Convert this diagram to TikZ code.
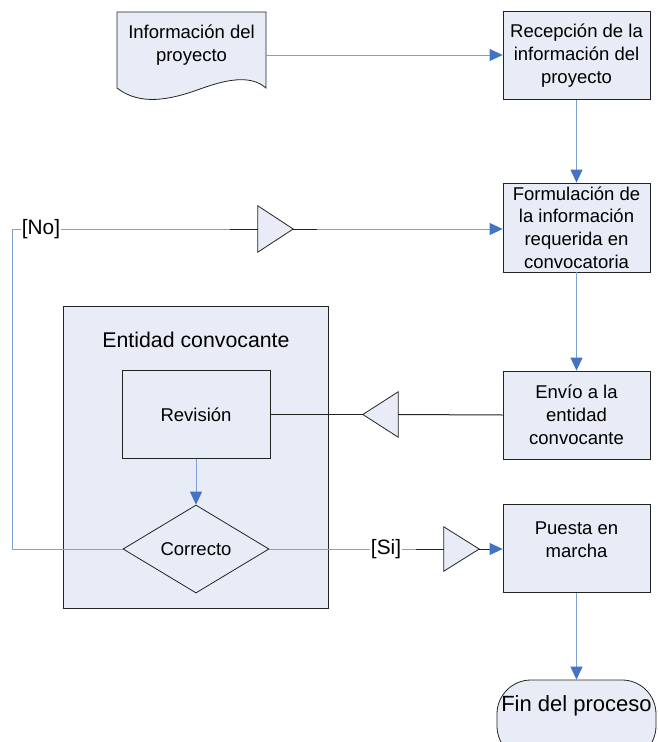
\documentclass[tikz,border=0pt]{standalone}
\usepackage{fontspec}
\setmainfont{Liberation Sans}
\usetikzlibrary{arrows.meta,shapes.geometric}
\definecolor{boxfill}{RGB}{231,236,247}
\definecolor{lineblue}{RGB}{125,160,214}
\definecolor{tipblue}{RGB}{68,114,196}
\definecolor{edgec}{RGB}{35,35,35}
\newcommand\boxfont{\fontsize{18.5}{22.8}\selectfont}
\newcommand\lanefont{\fontsize{21.3}{25}\selectfont}
\newcommand\finfont{\fontsize{22}{26}\selectfont}
\newcommand\lblfont{\fontsize{20.8}{24}\selectfont}
\begin{document}
\begin{tikzpicture}[x=1pt,y=-1pt,
  box/.style={draw=edgec, line width=0.8pt, fill=boxfill, minimum width=147pt, minimum height=88pt, inner sep=2pt, align=center, font=\boxfont},
  shapeline/.style={draw=edgec, line width=0.8pt, fill=boxfill},
  flow/.style={draw=lineblue, line width=1pt, -{Triangle[length=13pt,width=12pt,color=tipblue,fill=tipblue]}},
  bline/.style={draw=lineblue, line width=1pt},
  kline/.style={draw=edgec, line width=1pt},
  trinode/.style={minimum width=35pt, minimum height=45pt, inner sep=0pt},
  lbl/.style={font=\lblfont, inner sep=1pt}
]
\path[use as bounding box] (0,0) rectangle (657,742);
\clip (0,0) rectangle (657,742);

% document shape
\path[shapeline] (117,12) -- (266,12) -- (266,88)
  .. controls (250,74) and (225,80) .. (200,89)
  .. controls (170,100) and (140,106) .. (117,88) -- cycle;
\node[font=\boxfont, align=center] (doc) at (191.5,45) {Información del\\proyecto};
\coordinate (docR) at (266,55);

% swimlane
\node[shapeline, minimum width=265pt, minimum height=302pt, inner sep=0pt] (lane) at (195.5,457) {};
\node[font=\lanefont] (lanetitle) at (196,340) {Entidad convocante};

% right column
\node[box] (recep) at (576.5,55.5) {Recepción de la\\información del\\proyecto};
\node[box, minimum height=89pt] (form) at (576.5,227.5) {Formulación de\\la información\\requerida en\\convocatoria};
\node[box] (envio) at (576.5,415) {Envío a la\\entidad\\convocante};
\node[box, text depth=17pt] (puesta) at (576.5,548.5) {Puesta en\\marcha};
\node[shapeline, rectangle, rounded corners=34pt, minimum width=159pt, minimum height=80pt, inner sep=0pt, font=\finfont, text depth=32pt] (fin) at (576.5,720) {Fin del proceso};

% lane contents
\node[box, minimum width=148pt] (rev) at (196,414.5) {Revisión};
\node[shapeline, diamond, aspect=1.66, minimum width=146pt, minimum height=88pt, inner sep=0pt, font=\boxfont] (corr) at (196,549) {Correcto};

% merge triangles
\node[trinode, minimum height=46pt] (t1) at (275.5,229) {};
\path[shapeline] (t1.north west) -- (t1.east) -- (t1.south west) -- cycle;
\node[trinode] (t2) at (380.5,414.5) {};
\path[shapeline] (t2.north east) -- (t2.west) -- (t2.south east) -- cycle;
\node[trinode, minimum height=44pt] (t3) at (461.5,549) {};
\path[shapeline] (t3.north west) -- (t3.east) -- (t3.south west) -- cycle;

% labels
\node[lbl] (no) at (41,229) {[No]};
\node[lbl] (si) at (386,549) {[Si]};
\coordinate (nocorner) at (12,549);
\coordinate (notop) at (12,229);
\coordinate (k1) at (230,229);
\coordinate (k2) at (317,229);
\coordinate (k3) at (416,549);

% connectors
\draw[flow] (docR) -- (recep.west |- docR);
\draw[flow] (recep.south) -- (form.north);
\draw[flow] (form.south) -- (envio.north);
\draw[flow] (puesta.south) -- (fin.north);
\draw[flow] (rev.south) -- (corr.north);

\draw[bline] (corr.west) -- (nocorner) -- (notop) -- (no.west);
\draw[bline] (no.east) -- (k1);
\draw[kline] (k1) -- (t1.west);
\draw[kline] (t1.east) -- (k2);
\draw[flow] (k2) -- (form.west |- k2);

\draw[kline] (envio.west) -- (t2.east);
\draw[kline] (t2.west) -- (rev.east);

\draw[bline] (corr.east) -- (si.west);
\draw[bline] (si.east) -- (k3);
\draw[kline] (k3) -- (t3.west);
\draw[kline, -{Triangle[length=13pt,width=12pt,color=tipblue,fill=tipblue]}] (t3.east) -- (puesta.west |- t3.east);
\end{tikzpicture}
\end{document}
